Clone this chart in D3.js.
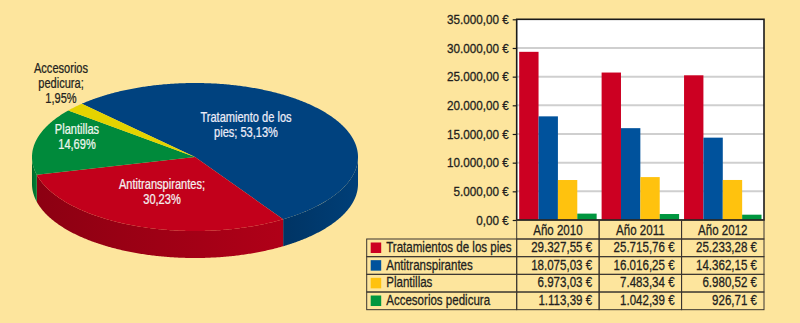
<!DOCTYPE html>
<html><head><meta charset="utf-8">
<script src="https://cdn.jsdelivr.net/npm/d3@7"></script>
<style>
html,body{margin:0;padding:0;background:#fde59d;}
svg{display:block;}
text{font-family:"Liberation Sans",Arial,sans-serif;}
</style></head><body><svg id="c" width="800" height="323"></svg>
<script>
// ---------- data ----------
const years = ["Año 2010", "Año 2011", "Año 2012"];
const seriesNames = ["Tratamientos de los pies", "Antitranspirantes", "Plantillas", "Accesorios pedicura"];
const tratamientos = [29327.55, 25715.76, 25233.28];
const antitranspirantes = [18075.03, 16016.25, 14362.15];
const plantillas = [6973.03, 7483.34, 6980.52];
const accesorios = [1113.39, 1042.39, 926.71];
const yTicks = [0, 5000, 10000, 15000, 20000, 25000, 30000, 35000];

const pieNames = ["Tratamiento de los pies", "Antitranspirantes", "Plantillas", "Accesorios pedicura"];
const pieShares = [53.13, 30.23, 14.69, 1.95];
const pieLabels = [["Tratamiento de los", "pies; 53,13%"], ["Antitranspirantes;", "30,23%"], ["Plantillas", "14,69%"], ["Accesorios", "pedicura;", "1,95%"]];

// ---------- styles / layout ----------
const barColors = ["#cc0022", "#00529c", "#ffc20e", "#00963f"];
const pieTop = ["#00427f", "#c2001b", "#008a3b", "#e4d300"];
const pieSideA = ["#003464", "#8c0012", "#006a2c", "#b8a800"];
const pieSideB = ["#003f78", "#b00018", "#007f35", "#d0c000"];
const pieLabelColor = ["#ececf8", "#f4f0f0", "#eef6ee", "#231f20"];
const pieLabelPos = [[246, 122.3], [162, 189], [77, 134], [61, 73]];
const P = {cx: 195, cy: 157, rx: 163, ry: 74, depth: 27};
const TXT = "#231f20";

const svg = d3.select("#c");
const series = [tratamientos, antitranspirantes, plantillas, accesorios];

const loc = d3.formatLocale({decimal: ",", thousands: ".", grouping: [3], currency: ["", " €"]});
const fmt = v => loc.format(",.2f")(v) + " €";

function condense(sel, s) {
  sel.each(function () {
    const el = d3.select(this);
    let x = +el.attr("x");
    if (el.attr("x") === null || isNaN(x)) {
      const ts = el.select("tspan");
      x = ts.empty() ? 0 : +ts.attr("x");
    }
    el.attr("transform", `translate(${x},0) scale(${s},1) translate(${-x},0)`);
  });
}

// ---------- pie ----------
const deg = Math.PI / 180;
const pie = d3.pie().sort(null).value(d => d).startAngle(-44 * deg).endAngle(-44 * deg + 2 * Math.PI);
const arcs = pie(pieShares);
const ept = (t, dy = 0) => [P.cx + P.rx * Math.cos(t), P.cy + P.ry * Math.sin(t) + dy];
const line = d3.line();
const defs = svg.append("defs");

arcs.forEach((a, i) => {
  const t1 = a.startAngle - Math.PI / 2, t2 = a.endAngle - Math.PI / 2;
  [0, -2 * Math.PI, 2 * Math.PI].forEach(sh => {
    const s = Math.max(t1 + sh, 0), e = Math.min(t2 + sh, Math.PI);
    if (e <= s) return;
    const n = Math.max(2, Math.ceil((e - s) / (0.5 * deg)));
    const ts = d3.range(n + 1).map(k => s + (e - s) * k / n);
    const pts = ts.map(t => ept(t)).concat(ts.slice().reverse().map(t => ept(t, P.depth)));
    const gid = "g" + i + "_" + Math.round(sh);
    const g = defs.append("linearGradient").attr("id", gid).attr("gradientUnits", "userSpaceOnUse")
      .attr("x1", ept(e)[0]).attr("x2", ept(s)[0]).attr("y1", 0).attr("y2", 0);
    g.append("stop").attr("offset", 0).attr("stop-color", pieSideA[i]);
    g.append("stop").attr("offset", 1).attr("stop-color", pieSideB[i]);
    svg.append("path").attr("d", line(pts) + "Z").attr("fill", `url(#${gid})`);
  });
});
arcs.forEach((a, i) => {
  const t1 = a.startAngle - Math.PI / 2, t2 = a.endAngle - Math.PI / 2;
  const n = Math.max(2, Math.ceil((t2 - t1) / (0.5 * deg)));
  const pts = [[P.cx, P.cy]].concat(d3.range(n + 1).map(k => ept(t1 + (t2 - t1) * k / n)));
  svg.append("path").attr("d", line(pts) + "Z").attr("fill", pieTop[i]);
});
pieLabels.forEach((lines, i) => {
  const t = svg.append("text").attr("class", "pl").attr("text-anchor", "middle").attr("font-size", 14)
    .attr("fill", pieLabelColor[i]).attr("stroke", pieLabelColor[i]).attr("stroke-width", 0.25);
  lines.forEach((l, k) => t.append("tspan").attr("x", pieLabelPos[i][0]).attr("y", pieLabelPos[i][1] + k * 15).text(l));
});
condense(svg.selectAll("text.pl"), 0.79);

// ---------- bar chart ----------
const plot = {x0: 516.7, x1: 764, y0: 19.3, y1: 220};
const y = d3.scaleLinear().domain([0, 35000]).range([plot.y1, plot.y0]);
const x0 = d3.scaleBand().domain(years).range([plot.x0, plot.x1]).paddingInner(0).paddingOuter(0);
const x1 = d3.scaleBand().domain(d3.range(4)).range([0, x0.bandwidth()]).paddingOuter(0.128).paddingInner(0);

svg.append("rect").attr("x", plot.x0).attr("y", plot.y0).attr("width", plot.x1 - plot.x0).attr("height", plot.y1 - plot.y0).attr("fill", "#ffffff");
svg.append("g").selectAll("line").data(yTicks.slice(1, -1)).join("line")
  .attr("x1", plot.x0).attr("x2", plot.x1).attr("y1", d => y(d)).attr("y2", d => y(d))
  .attr("stroke", "#cfcfcf").attr("stroke-width", 2);

years.forEach((yr, j) => {
  series.forEach((s, i) => {
    svg.append("rect").attr("x", x0(yr) + x1(i)).attr("width", x1.bandwidth())
      .attr("y", y(s[j])).attr("height", y(0) - y(s[j])).attr("fill", barColors[i]);
  });
});

svg.append("rect").attr("x", plot.x0).attr("y", plot.y0).attr("width", plot.x1 - plot.x0).attr("height", plot.y1 - plot.y0)
  .attr("fill", "none").attr("stroke", "#1a1a1a").attr("stroke-width", 1.6);

const yAxis = d3.axisLeft(y).tickValues(yTicks).tickFormat(fmt).tickSize(4).tickPadding(4);
const ga = svg.append("g").attr("transform", `translate(${plot.x0},0)`).call(yAxis);
ga.select(".domain").remove();
ga.selectAll(".tick line").attr("stroke", "#1a1a1a").attr("stroke-width", 1.2);
ga.selectAll("text").attr("font-size", 13).attr("fill", TXT).attr("font-family", null)
  .attr("stroke", TXT).attr("stroke-width", 0.3);
condense(ga.selectAll("text"), 0.9);

// ---------- table ----------
const tb = {left: 366.7, top: 239, rowH: 17.67};
const lineCol = "#3a3530";
const tg = svg.append("g");
years.forEach(yr => {
  tg.append("rect").attr("x", x0(yr)).attr("y", plot.y1).attr("width", x0.bandwidth()).attr("height", tb.top - plot.y1)
    .attr("fill", "none").attr("stroke", lineCol).attr("stroke-width", 1);
  tg.append("text").attr("class", "tt").attr("x", x0(yr) + x0.bandwidth() / 2).attr("y", plot.y1 + 15).attr("text-anchor", "middle")
    .attr("font-size", 15).attr("fill", TXT).text(yr);
});
seriesNames.forEach((nm, i) => {
  const ry = tb.top + i * tb.rowH;
  tg.append("rect").attr("x", tb.left).attr("y", ry).attr("width", plot.x0 - tb.left).attr("height", tb.rowH)
    .attr("fill", "none").attr("stroke", lineCol).attr("stroke-width", 1);
  tg.append("rect").attr("x", tb.left + 4).attr("y", ry + 3.5).attr("width", 10.5).attr("height", 10.5).attr("fill", barColors[i]);
  tg.append("text").attr("class", "tt").attr("x", tb.left + 19.5).attr("y", ry + 13).attr("font-size", 15).attr("fill", TXT).text(nm);
  years.forEach((yr, j) => {
    tg.append("rect").attr("x", x0(yr)).attr("y", ry).attr("width", x0.bandwidth()).attr("height", tb.rowH)
      .attr("fill", "none").attr("stroke", lineCol).attr("stroke-width", 1);
    tg.append("text").attr("class", "tt").attr("x", x0(yr) + x0.bandwidth() - 7).attr("y", ry + 13).attr("text-anchor", "end")
      .attr("font-size", 15).attr("fill", TXT).text(fmt(series[i][j]));
  });
});
tg.selectAll("text.tt").attr("stroke", TXT).attr("stroke-width", 0.3);
condense(tg.selectAll("text.tt"), 0.77);
</script></body></html>
